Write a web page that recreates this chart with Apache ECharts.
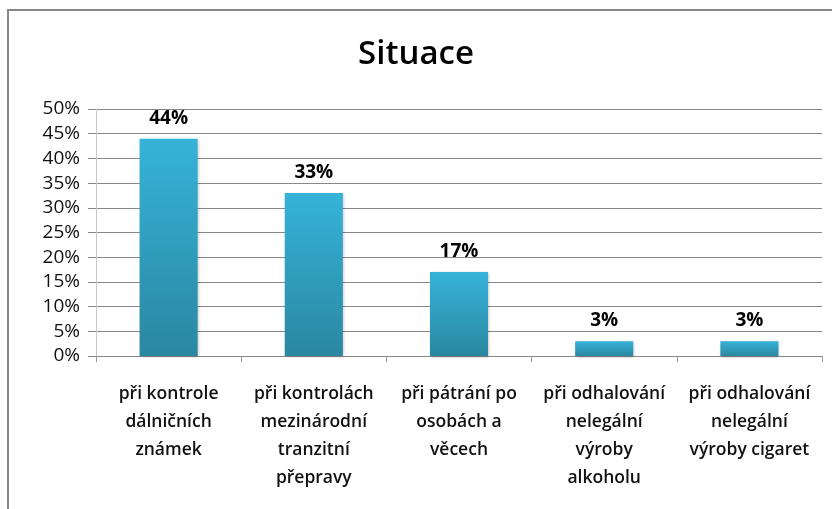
<!DOCTYPE html>
<html>
<head>
<meta charset="utf-8">
<script src="https://cdn.jsdelivr.net/npm/echarts@6/dist/echarts.min.js"></script>
<style>
  html, body { margin: 0; padding: 0; background: #fff; }
  #chart { width: 832px; height: 509px; }
</style>
</head>
<body>
<div id="chart"></div>
<script>
// data
const categories = [
  'při kontrole\ndálničních\nznámek',
  'při kontrolách\nmezinárodní\ntranzitní\npřepravy',
  'při pátrání po\nosobách a\nvěcech',
  'při odhalování\nnelegální\nvýroby\nalkoholu',
  'při odhalování\nnelegální\nvýroby cigaret'
];
const values = [44, 33, 17, 3, 3];
const yTicks = [0, 5, 10, 15, 20, 25, 30, 35, 40, 45, 50];

const font = 'Open Sans, Noto Sans, sans-serif';
const chart = echarts.init(document.getElementById('chart'));

chart.setOption({
  animation: false,
  title: {
    text: 'Situace',
    left: 'center',
    top: 33,
    textStyle: { fontFamily: font, fontSize: 33, fontWeight: 600, color: '#000' }
  },
  grid: { left: 96, right: 10, top: 109, bottom: 153 },
  graphic: [{
    type: 'polyline',
    shape: { points: [[8, 509], [8, 10], [832, 10]] },
    style: { stroke: '#888', lineWidth: 2, fill: null }
  }],
  xAxis: {
    type: 'category',
    data: categories,
    axisLine: { show: false },
    axisTick: { show: true, length: 6, lineStyle: { color: '#999' } },
    axisLabel: {
      interval: 0,
      margin: 24,
      fontFamily: font,
      fontSize: 17.5,
      fontWeight: 600,
      color: '#111',
      lineHeight: 28
    }
  },
  yAxis: {
    type: 'value',
    min: yTicks[0],
    max: yTicks[yTicks.length - 1],
    interval: 5,
    axisLine: { show: true, lineStyle: { color: '#c8c8c8', width: 1 } },
    axisTick: { show: true, length: 8, lineStyle: { color: '#888' } },
    axisLabel: {
      margin: 16,
      fontFamily: font,
      fontSize: 19,
      color: '#111',
      formatter: v => v + '%'
    },
    splitLine: { lineStyle: { color: '#888', width: 1 } }
  },
  series: [{
    type: 'bar',
    data: values,
    barWidth: '40%',
    itemStyle: {
      color: new echarts.graphic.LinearGradient(0, 0, 0, 1, [
        { offset: 0, color: '#36b3d9' },
        { offset: 1, color: '#2a87a1' }
      ]),
      shadowColor: 'rgba(0,0,0,0.25)',
      shadowBlur: 3,
      shadowOffsetX: 1,
      shadowOffsetY: 1
    },
    label: {
      show: true,
      position: 'top',
      distance: 11,
      fontFamily: font,
      fontSize: 19,
      fontWeight: 'bold',
      color: '#000',
      formatter: p => p.value + '%'
    }
  }]
});
</script>
</body>
</html>
